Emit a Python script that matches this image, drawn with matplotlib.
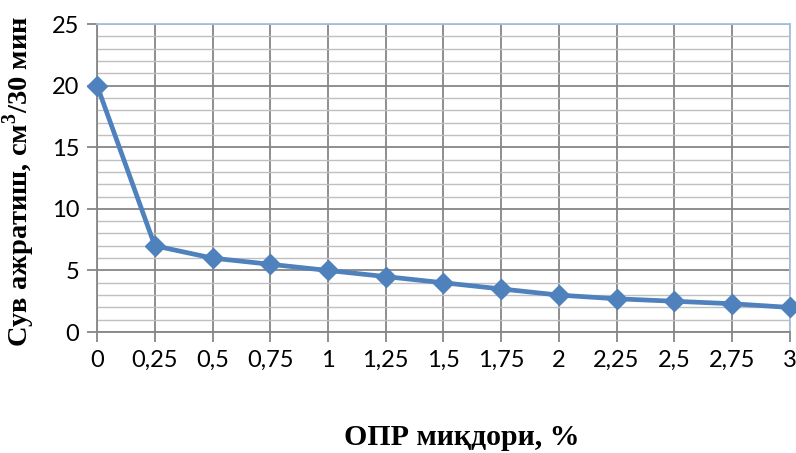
import matplotlib.pyplot as plt
import numpy as np

# ОПР amount (%) and water separation (cm3 / 30 min)
opr = ['0', '0,25', '0,5', '0,75', '1', '1,25', '1,5', '1,75', '2', '2,25', '2,5', '2,75', '3']
water = [20, 7, 6, 5.5, 5, 4.5, 4, 3.5, 3, 2.7, 2.5, 2.3, 2.0]

plt.rcParams['mathtext.fontset'] = 'custom'
plt.rcParams['mathtext.bf'] = 'Liberation Serif:bold'
plt.rcParams['mathtext.rm'] = 'Liberation Serif:bold'

fig = plt.figure(figsize=(7.96, 4.53), dpi=100)
ax = fig.add_axes([0.122, 0.267, 0.870, 0.680])

x = np.arange(len(opr))
ax.plot(x, water, color='#4f81bd', lw=3.4, marker='D', ms=10.5,
        markeredgecolor='#4f81bd', zorder=5, clip_on=False)

ax.set_xlim(0, len(opr) - 1)
ax.set_ylim(0, 25)
ax.set_xticks(x)
ax.set_xticklabels(opr)
ax.set_yticks(np.arange(0, 26, 5))
ax.set_yticks(np.arange(0, 26, 1), minor=True)

ax.grid(which='minor', axis='y', color='#bfbfbf', lw=1.0)
ax.grid(which='major', axis='y', color='#868686', lw=1.3)
ax.grid(which='major', axis='x', color='#868686', lw=1.3)

for s in ['left', 'bottom']:
    ax.spines[s].set_color('#868686')
    ax.spines[s].set_linewidth(1.3)
for s in ['top', 'right']:
    ax.spines[s].set_color('#a7bfe0')
    ax.spines[s].set_linewidth(1.3)

ax.tick_params(axis='both', which='major', length=7, width=1.3, color='#868686',
               labelsize=17, pad=6)
ax.tick_params(axis='y', which='minor', length=0)
for lab in ax.get_xticklabels() + ax.get_yticklabels():
    lab.set_family('Lato')

ax.set_xlabel('ОПР миқдори, %', family='Liberation Serif', fontweight='bold',
              fontsize=21.5)
ax.xaxis.set_label_coords(0.527, -0.30)
ax.set_ylabel('Сув ажратиш, см$^{\\mathbf{3}}$/30 мин', family='Liberation Serif',
              fontweight='bold', fontsize=20.5)
ax.yaxis.set_label_coords(-0.087, 0.49)

fig.savefig('out.png', dpi=100)
